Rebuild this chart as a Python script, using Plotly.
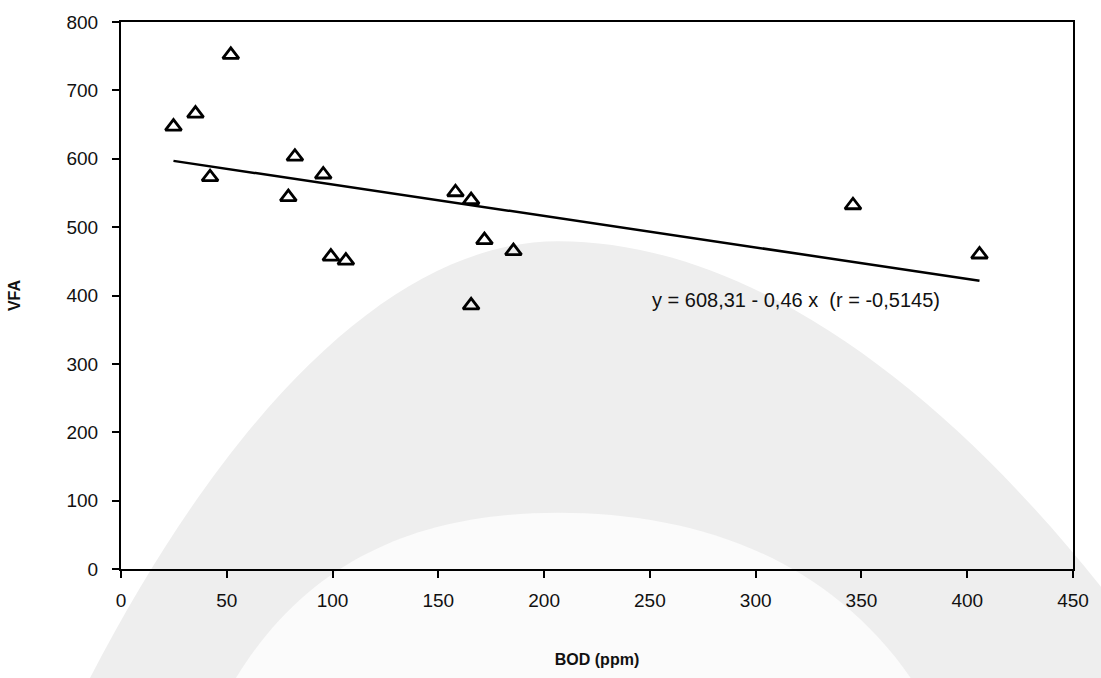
import plotly.graph_objects as go

# Data
bod = [24.8, 35.2, 42.1, 51.9, 79.1, 82.2, 95.6, 99.2, 106.3, 158.1, 165.5, 165.5, 171.8, 185.5, 346.0, 405.8]
vfa = [647, 666, 573, 752, 544, 603, 577, 457, 451, 551, 539.5, 385.5, 481, 465, 532, 460]
intercept = 608.31
slope = -0.46
x_ticks = [0, 50, 100, 150, 200, 250, 300, 350, 400, 450]
y_ticks = [0, 100, 200, 300, 400, 500, 600, 700, 800]
equation_text = "y = 608,31 - 0,46 x  (r = -0,5145)"

W, H = 1101, 678
L, R, T, B = 121, 26, 16, 108
PW, PH = W - L - R, H - T - B


def px(x, y):
    return (x - L) / PW, (H - B - y) / PH


def path(cmds):
    out = []
    for c in cmds:
        if isinstance(c, str):
            out.append(c)
        else:
            a, b = px(*c)
            out.append(f"{a:.4f},{b:.4f}")
    return " ".join(out)


outer = path(["M", (80, 700), "C", (230, 400), "", (400, 238), "", (559, 238),
              "C", (760, 238), "", (960, 400), "", (1120, 610),
              "L", (1120, 700), "Z"])
inner = path(["M", (225, 700), "C", (300, 560), "", (420, 513), "", (559, 513),
              "C", (700, 513), "", (840, 560), "", (925, 700), "Z"])

xline = [min(bod), max(bod)]
yline = [intercept + slope * v for v in xline]

fig = go.Figure()
fig.add_trace(go.Scatter(x=xline, y=yline, mode="lines",
                         line=dict(color="black", width=2.5), showlegend=False))
fig.add_trace(go.Scatter(x=bod, y=vfa, mode="markers",
                         marker=dict(symbol="triangle-up-open", size=14, color="black",
                                     line=dict(color="black", width=2.8)),
                         showlegend=False))

fig.add_annotation(x=250, y=393, xref="x", yref="y", text=equation_text, showarrow=False,
                   xanchor="left", yanchor="middle",
                   font=dict(family="Liberation Sans", size=20, color="#111111"))

fig.update_layout(
    width=W, height=H,
    margin=dict(l=L, r=R, t=T, b=B),
    paper_bgcolor="white", plot_bgcolor="rgba(0,0,0,0)",
    font=dict(family="Liberation Sans", color="#111111"),
    shapes=[
        dict(type="path", xref="paper", yref="paper", path=outer,
             fillcolor="#eeeeee", line=dict(width=0), layer="below"),
        dict(type="path", xref="paper", yref="paper", path=inner,
             fillcolor="#fbfbfb", line=dict(width=0), layer="below"),
    ],
    xaxis=dict(range=[0, 450], tickvals=x_ticks, ticktext=[str(v) for v in x_ticks],
               showgrid=False, zeroline=False, showline=True, linecolor="black", linewidth=2,
               mirror=True, ticks="outside", ticklen=7, tickwidth=1.5, tickcolor="black",
               ticklabelstandoff=6,
               tickfont=dict(size=19, family="Liberation Sans"),
               title=dict(text="<b>BOD (ppm)</b>", font=dict(size=16), standoff=44)),
    yaxis=dict(range=[0, 800], tickvals=y_ticks, ticktext=[str(v) for v in y_ticks],
               showgrid=False, zeroline=False, showline=True, linecolor="black", linewidth=2,
               mirror=True, ticks="outside", ticklen=7, tickwidth=1.5, tickcolor="black",
               ticklabelstandoff=10,
               tickfont=dict(size=19, family="Liberation Sans"),
               title=dict(text="<b>VFA</b>", font=dict(size=16), standoff=42)),
)

fig.write_html("out.html")
